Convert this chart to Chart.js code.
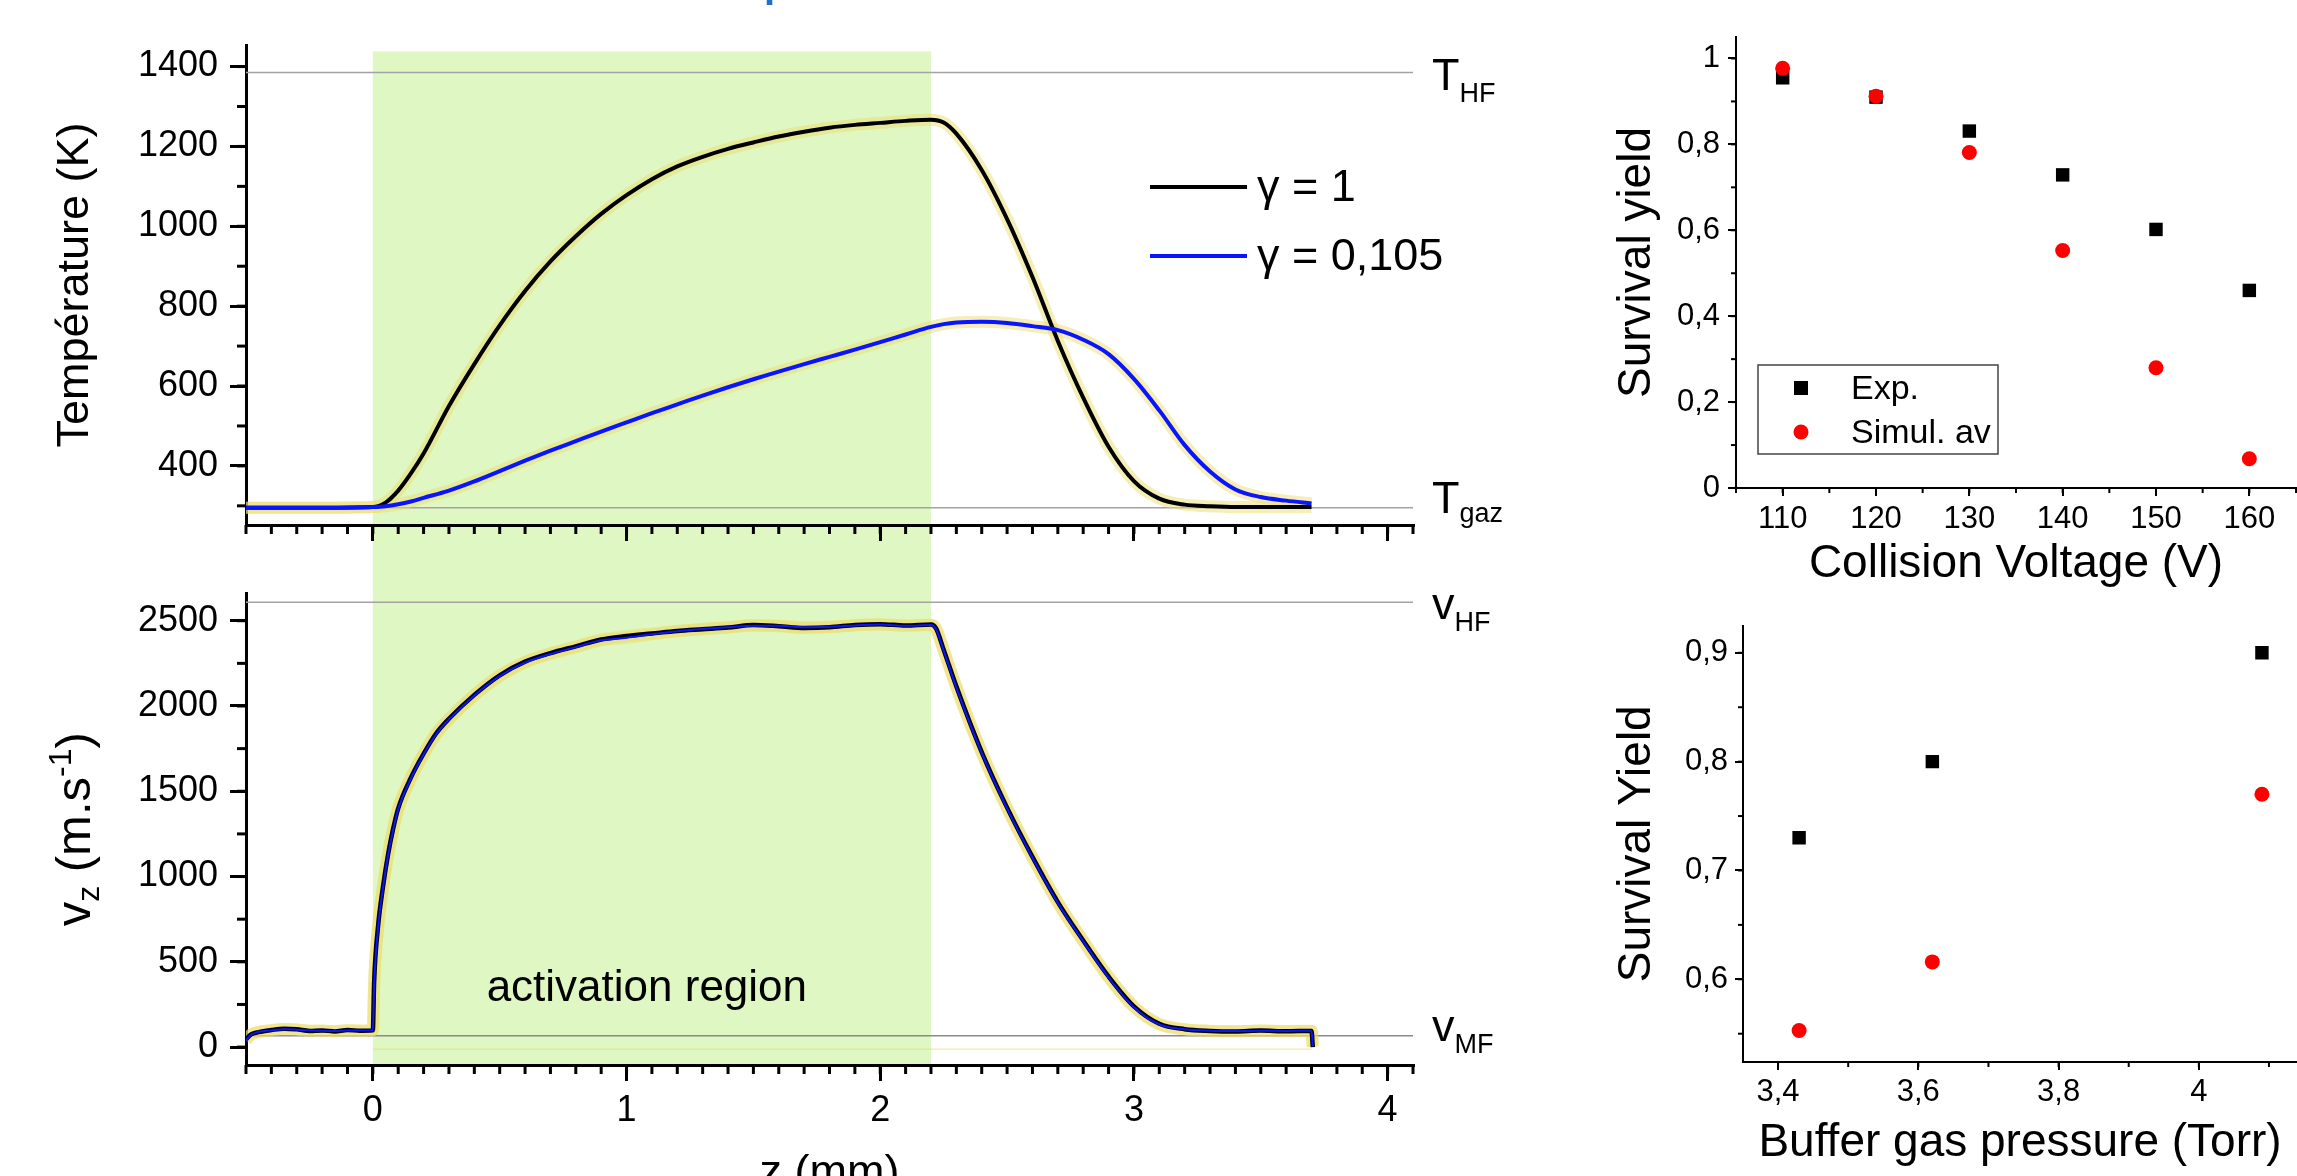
<!DOCTYPE html>
<html>
<head>
<meta charset="utf-8">
<title>Température, vitesse et survival yield</title>
<script src="https://cdn.jsdelivr.net/npm/chart.js@4.4.1/dist/chart.umd.min.js"></script>
<style>
  html, body { margin: 0; padding: 0; background: #fff; overflow: hidden; }
  body { width: 2297px; height: 1176px; position: relative; }
  canvas { position: absolute; }
  #tempChart { left: 0; top: 0; }
  #velChart { left: 0; top: 560px; }
  #voltChart { left: 1560px; top: 0; }
  #pressChart { left: 1560px; top: 600px; }
</style>
</head>
<body>
<canvas id="tempChart" width="1560" height="560"></canvas>
<canvas id="velChart" width="1560" height="660"></canvas>
<canvas id="voltChart" width="737" height="600"></canvas>
<canvas id="pressChart" width="737" height="576"></canvas>
<script>
const FONT = "'Liberation Sans', Arial, Helvetica, sans-serif";
Chart.defaults.font.family = FONT;
Chart.defaults.color = '#000';
Chart.defaults.animation = false;

// ---- left panels, z in mm ----
const zTemp = [-0.5, -0.25, 0, 0.05, 0.1, 0.15, 0.2, 0.3, 0.4, 0.5, 0.6, 0.7, 0.8, 0.9, 1.0,
  1.1, 1.2, 1.3, 1.4, 1.5, 1.6, 1.7, 1.8, 1.9, 2.0, 2.1, 2.2, 2.25, 2.3, 2.4, 2.5, 2.6, 2.7, 2.8, 2.9, 3.0,
  3.1, 3.2, 3.3, 3.4, 3.5, 3.6, 3.7];
const tempGamma1 = [295, 295, 297, 308, 338, 381, 431, 550, 655, 752, 838, 912, 975, 1031, 1078,
  1118, 1150, 1174, 1194, 1210, 1225, 1237, 1247, 1254, 1259, 1264, 1267, 1260, 1232, 1141, 1018, 873, 713, 571, 448, 362,
  318, 303, 299, 297, 297, 297, 297];
const tempGamma0105 = [295, 295, 297, 299, 304, 311, 320, 338, 361, 387, 413, 438, 462, 486, 509,
  532, 554, 576, 597, 617, 636, 655, 673, 691, 710, 729, 748, 755, 759, 761, 758, 750, 740, 716, 680, 618,
  539, 452, 386, 341, 322, 313, 306];

const zVel = [-0.5, -0.48, -0.45, -0.4, -0.35, -0.3, -0.25, -0.2, -0.15, -0.1, -0.05, 0,
  0.005, 0.02, 0.04, 0.06, 0.08, 0.1, 0.15, 0.2, 0.25, 0.3, 0.4, 0.5,
  0.6, 0.7, 0.8, 0.9, 1.0, 1.1, 1.2, 1.3, 1.4, 1.5, 1.6, 1.7, 1.8, 1.9, 2.0, 2.1, 2.2,
  2.22, 2.25, 2.3, 2.4, 2.5, 2.6, 2.7, 2.8, 2.9, 3.0, 3.1, 3.2, 3.3, 3.4, 3.5, 3.6, 3.7, 3.705];
const velGamma1 = [45, 75, 88, 100, 108, 104, 95, 98, 92, 100, 96, 98,
  380, 700, 940, 1130, 1280, 1400, 1580, 1720, 1840, 1925, 2065, 2180,
  2260, 2310, 2350, 2390, 2410, 2425, 2440, 2450, 2460, 2475, 2468, 2458, 2462, 2475, 2480, 2472, 2478,
  2455, 2330, 2115, 1730, 1404, 1115, 850, 625, 414, 239, 137, 105, 95, 92, 97, 93, 95, 0];
const velGamma0105 = [40, 72, 90, 98, 105, 102, 97, 96, 94, 98, 97, 99,
  360, 690, 935, 1125, 1275, 1395, 1575, 1716, 1836, 1921, 2062, 2175,
  2255, 2305, 2345, 2385, 2400, 2420, 2438, 2452, 2462, 2470, 2470, 2462, 2465, 2472, 2478, 2470, 2475,
  2450, 2325, 2108, 1725, 1398, 1110, 845, 620, 408, 234, 133, 104, 96, 94, 96, 95, 96, 5];

const zTicks = [0, 1, 2, 3, 4];
const tempTicks = [400, 600, 800, 1000, 1200, 1400];
const velTicks = [0, 500, 1000, 1500, 2000, 2500];
const tempLevels = [1385, 295];   // T_HF, T_gaz
const velLevels = [2608, 66];     // v_HF, v_MF
const activationZone = [0, 2.2];
const gammaLabels = ['γ = 1', 'γ = 0,105'];

// ---- right panels ----
const voltage = [110, 120, 130, 140, 150, 160];
const voltExp = [0.955, 0.910, 0.831, 0.729, 0.602, 0.460];
const voltSimul = [0.977, 0.912, 0.781, 0.553, 0.280, 0.068];
const voltTicks = [110, 120, 130, 140, 150, 160];
const voltYieldTicks = [0, 0.2, 0.4, 0.6, 0.8, 1];
const pressure = [3.43, 3.62, 4.09];
const pressExp = [0.730, 0.800, 0.900];
const pressSimul = [0.553, 0.616, 0.770];
const pressTicks = [3.4, 3.6, 3.8, 4];
const pressYieldTicks = [0.6, 0.7, 0.8, 0.9];
const yieldLabels = ['Exp.', 'Simul. av'];

const GREEN = '#dff7c2';
const BAND = 'rgba(236, 222, 110, 0.5)';
const BLUE = '#0a14ff';
const RED = '#ff0000';

const pts = (xs, ys) => xs.map((x, i) => ({x: x, y: ys[i]}));
const setTicks = values => scale => { scale.ticks = values.map(v => ({value: v})); };
const frDecimal = v => String(Math.round(v * 100) / 100).replace('.', ',');

function line(data, color, width, order) {
  return {data: data, showLine: true, borderColor: color, backgroundColor: color,
    borderWidth: width, pointRadius: 0, cubicInterpolationMode: 'monotone', order: order};
}

function axis(o) {
  return {
    type: 'linear', min: o.min, max: o.max,
    afterBuildTicks: setTicks(o.ticks),
    afterFit: o.fit,
    ticks: {display: o.labels !== false, font: {size: o.font}, padding: o.pad,
      callback: o.fmt || (v => String(v))},
    grid: {drawOnChartArea: false, tickLength: o.tick, tickWidth: o.lw, tickColor: '#000',
      lineWidth: o.lw, color: '#000'},
    border: {display: true, color: '#000', width: o.lw},
    title: o.title ? {display: true, text: o.title, font: {size: o.titleSize}, padding: o.titlePad}
                   : {display: false}
  };
}

// minor ticks, drawn outward from the axis lines
function minorTicks(list) {
  return {
    id: 'minorTicks',
    afterDraw(chart) {
      const {ctx, chartArea} = chart;
      ctx.save();
      ctx.strokeStyle = '#000';
      list.forEach(m => {
        const s = chart.scales[m.axis];
        ctx.lineWidth = m.width;
        const first = Math.ceil(s.min / m.step - 1e-6);
        const last = Math.floor(s.max / m.step + 1e-6);
        for (let i = first; i <= last; i++) {
          const p = s.getPixelForValue(i * m.step);
          ctx.beginPath();
          if (s.isHorizontal()) {
            ctx.moveTo(p, chartArea.bottom);
            ctx.lineTo(p, chartArea.bottom + m.len);
          } else {
            ctx.moveTo(chartArea.left, p);
            ctx.lineTo(chartArea.left - m.len, p);
          }
          ctx.stroke();
        }
      });
      ctx.restore();
    }
  };
}

// green "activation region" band
function activation(topValue, toCanvasBottom) {
  return {
    id: 'activation',
    beforeDraw(chart) {
      const {ctx, chartArea, scales} = chart;
      const x0 = scales.x.getPixelForValue(activationZone[0]);
      const x1 = scales.x.getPixelForValue(activationZone[1]);
      const top = topValue == null ? 0 : scales.y.getPixelForValue(topValue);
      const bottom = toCanvasBottom ? chart.height : chartArea.bottom;
      ctx.save();
      ctx.fillStyle = GREEN;
      ctx.fillRect(x0, top, x1 - x0, bottom - top);
      ctx.restore();
    }
  };
}

// T_HF / T_gaz / v_HF / v_MF labels at the right of the level lines
function levelLabels(items) {
  return {
    id: 'levelLabels',
    afterDraw(chart) {
      const {ctx, chartArea, scales} = chart;
      ctx.save();
      ctx.fillStyle = '#000';
      ctx.textAlign = 'left';
      ctx.textBaseline = 'alphabetic';
      items.forEach(it => {
        const x = chartArea.right + 19;
        const y = scales.y.getPixelForValue(it.value);
        ctx.font = '45px ' + FONT;
        ctx.fillText(it.main, x, y + it.dy);
        const w = ctx.measureText(it.main).width;
        ctx.font = '27px ' + FONT;
        ctx.fillText(it.sub, x + w, y + it.subDy);
      });
      ctx.restore();
    }
  };
}

const gammaLegend = {
  id: 'gammaLegend',
  afterDraw(chart) {
    const ctx = chart.ctx;
    const colors = ['#000', BLUE];
    const rows = [187, 256];
    ctx.save();
    ctx.font = '45px ' + FONT;
    ctx.textBaseline = 'middle';
    ctx.fillStyle = '#000';
    gammaLabels.forEach((label, i) => {
      ctx.strokeStyle = colors[i];
      ctx.lineWidth = 4;
      ctx.beginPath();
      ctx.moveTo(1150, rows[i]);
      ctx.lineTo(1247, rows[i]);
      ctx.stroke();
      ctx.fillText(label, 1257, rows[i] + 2);
    });
    // cut-off blue heading above the figure
    ctx.fillStyle = '#1f6fc4';
    ctx.font = 'bold 40px ' + FONT;
    ctx.textBaseline = 'alphabetic';
    ctx.fillText('p', 764, -3);
    ctx.restore();
  }
};

const velNotes = {
  id: 'velNotes',
  afterDraw(chart) {
    const {ctx, chartArea, scales} = chart;
    ctx.save();
    ctx.fillStyle = '#000';
    ctx.font = '44px ' + FONT;
    ctx.textAlign = 'center';
    ctx.textBaseline = 'alphabetic';
    ctx.fillText('activation region', scales.x.getPixelForValue(1.08), scales.y.getPixelForValue(270));
    // y title: v_z (m.s^-1)
    const parts = [['v', 49, 0], ['z', 32, 9], [' (m.s', 49, 0], ['-1', 32, -19], [')', 49, 0]];
    ctx.translate(74, (chartArea.top + chartArea.bottom) / 2);
    ctx.rotate(-Math.PI / 2);
    ctx.textAlign = 'left';
    let total = 0;
    parts.forEach(p => { ctx.font = p[1] + 'px ' + FONT; total += ctx.measureText(p[0]).width; });
    let cx = -total / 2;
    parts.forEach(p => {
      ctx.font = p[1] + 'px ' + FONT;
      ctx.fillText(p[0], cx, 16 + p[2]);
      cx += ctx.measureText(p[0]).width;
    });
    ctx.restore();
  }
};

const yieldLegend = {
  id: 'yieldLegend',
  afterDraw(chart) {
    const ctx = chart.ctx;
    ctx.save();
    ctx.strokeStyle = '#444';
    ctx.lineWidth = 1.5;
    ctx.strokeRect(198, 365, 240, 89);
    ctx.fillStyle = '#000';
    ctx.fillRect(241 - 7, 388 - 7, 14, 14);
    ctx.fillStyle = RED;
    ctx.beginPath();
    ctx.arc(241, 432, 7.5, 0, Math.PI * 2);
    ctx.fill();
    ctx.fillStyle = '#000';
    ctx.font = '34px ' + FONT;
    ctx.textBaseline = 'middle';
    ctx.fillText(yieldLabels[0], 291, 390);
    ctx.fillText(yieldLabels[1], 291, 434);
    ctx.restore();
  }
};

// ---------- temperature ----------
new Chart(document.getElementById('tempChart'), {
  type: 'scatter',
  data: {
    datasets: [
      line(pts(zTemp, tempGamma0105), BLUE, 4, 1),
      line(pts(zTemp, tempGamma1), '#000', 4, 2),
      line(pts(zTemp, tempGamma0105), BAND, 12, 5),
      line(pts(zTemp, tempGamma1), BAND, 12, 6),
      line([{x: -0.5, y: tempLevels[0]}, {x: 4.1, y: tempLevels[0]}], '#a3a3a3', 1.5, 9),
      line([{x: -0.5, y: tempLevels[1]}, {x: 4.1, y: tempLevels[1]}], '#a3a3a3', 1.5, 9)
    ]
  },
  options: {
    responsive: false,
    layout: {autoPadding: false, padding: {top: 45, right: 147, bottom: 0, left: 0}},
    plugins: {legend: {display: false}, tooltip: {enabled: false}},
    scales: {
      x: axis({min: -0.5, max: 4.1, ticks: zTicks, labels: false, tick: 16, lw: 3,
        fit: s => { s.height = 35; }}),
      y: axis({min: 252, max: 1454, ticks: tempTicks, font: 36, pad: 12, tick: 16, lw: 3,
        title: 'Température (K)', titleSize: 45, titlePad: {top: 49, bottom: 0},
        fit: s => { s.width = 246; }})
    }
  },
  plugins: [activation(1438, true),
    minorTicks([{axis: 'x', step: 0.1, len: 9, width: 3}, {axis: 'y', step: 100, len: 9, width: 3}]),
    levelLabels([{value: tempLevels[0], main: 'T', sub: 'HF', dy: 17, subDy: 29},
                 {value: tempLevels[1], main: 'T', sub: 'gaz', dy: 5, subDy: 14}]),
    gammaLegend]
});

// ---------- velocity ----------
new Chart(document.getElementById('velChart'), {
  type: 'scatter',
  data: {
    datasets: [
      line(pts(zVel, velGamma0105), BLUE, 2, 1),
      line(pts(zVel, velGamma1), '#000', 4.5, 2),
      line(pts(zVel, velGamma0105), BAND, 12, 5),
      line(pts(zVel, velGamma1), BAND, 12, 6),
      line([{x: 0, y: -12}, {x: 3.7, y: -12}], 'rgba(236, 222, 110, 0.8)', 1, 8),
      line([{x: -0.5, y: velLevels[0]}, {x: 4.1, y: velLevels[0]}], '#a3a3a3', 1.5, 9),
      line([{x: -0.5, y: velLevels[1]}, {x: 4.1, y: velLevels[1]}], '#8a8a8a', 1.5, 9)
    ]
  },
  options: {
    responsive: false,
    layout: {autoPadding: false, padding: {top: 24, right: 147, bottom: 0, left: 0}},
    plugins: {legend: {display: false}, tooltip: {enabled: false}},
    scales: {
      x: axis({min: -0.5, max: 4.1, ticks: zTicks, font: 36, pad: 8, tick: 16, lw: 3,
        title: 'z (mm)', titleSize: 45, titlePad: {top: 0, bottom: 19},
        fit: s => { s.height = 155; }}),
      y: axis({min: -105, max: 2659, ticks: velTicks, font: 36, pad: 12, tick: 16, lw: 3,
        fit: s => { s.width = 246; }})
    }
  },
  plugins: [activation(null, false),
    minorTicks([{axis: 'x', step: 0.1, len: 9, width: 3}, {axis: 'y', step: 250, len: 9, width: 3}]),
    levelLabels([{value: velLevels[0], main: 'v', sub: 'HF', dy: 17, subDy: 29},
                 {value: velLevels[1], main: 'v', sub: 'MF', dy: 5, subDy: 17}]),
    velNotes]
});

// ---------- survival yield vs collision voltage ----------
new Chart(document.getElementById('voltChart'), {
  type: 'scatter',
  data: {
    datasets: [
      {data: pts(voltage, voltSimul), pointStyle: 'circle', pointRadius: 7.5, backgroundColor: RED, borderWidth: 0, order: 1},
      {data: pts(voltage, voltExp), pointStyle: 'rect', pointRadius: 9.5, backgroundColor: '#000', borderWidth: 0, order: 2}
    ]
  },
  options: {
    responsive: false,
    layout: {autoPadding: false, padding: {top: 37, right: 1, bottom: 0, left: 0}},
    plugins: {legend: {display: false}, tooltip: {enabled: false}},
    scales: {
      x: axis({min: 105, max: 165, ticks: voltTicks, font: 31, pad: 5, tick: 8, lw: 2,
        title: 'Collision Voltage (V)', titleSize: 46, titlePad: {top: 0, bottom: 8},
        fit: s => { s.height = 112; }}),
      y: axis({min: 0, max: 1.05, ticks: voltYieldTicks, font: 31, pad: 8, tick: 8, lw: 2, fmt: frDecimal,
        title: 'Survival yield', titleSize: 46, titlePad: {top: 50, bottom: 0},
        fit: s => { s.width = 176; }})
    }
  },
  plugins: [minorTicks([{axis: 'x', step: 5, len: 5, width: 2}, {axis: 'y', step: 0.1, len: 5, width: 2}]),
    yieldLegend]
});

// ---------- survival yield vs buffer gas pressure ----------
new Chart(document.getElementById('pressChart'), {
  type: 'scatter',
  data: {
    datasets: [
      {data: pts(pressure, pressSimul), pointStyle: 'circle', pointRadius: 7.5, backgroundColor: RED, borderWidth: 0, order: 1},
      {data: pts(pressure, pressExp), pointStyle: 'rect', pointRadius: 9.5, backgroundColor: '#000', borderWidth: 0, order: 2}
    ]
  },
  options: {
    responsive: false,
    layout: {autoPadding: false, padding: {top: 10, right: 0, bottom: 0, left: 0}},
    plugins: {legend: {display: false}, tooltip: {enabled: false}},
    scales: {
      x: axis({min: 3.35, max: 4.14, ticks: pressTicks, font: 31, pad: 4, tick: 8, lw: 2, fmt: frDecimal,
        title: 'Buffer gas pressure (Torr)', titleSize: 46, titlePad: {top: 0, bottom: 5},
        fit: s => { s.height = 114; }}),
      y: axis({min: 0.524, max: 0.925, ticks: pressYieldTicks, font: 31, pad: 7, tick: 8, lw: 2, fmt: frDecimal,
        title: 'Survival Yield', titleSize: 46, titlePad: {top: 50, bottom: 0},
        fit: s => { s.width = 183; }})
    }
  },
  plugins: [minorTicks([{axis: 'x', step: 0.1, len: 5, width: 2}, {axis: 'y', step: 0.05, len: 5, width: 2}])]
});
</script>
</body>
</html>
